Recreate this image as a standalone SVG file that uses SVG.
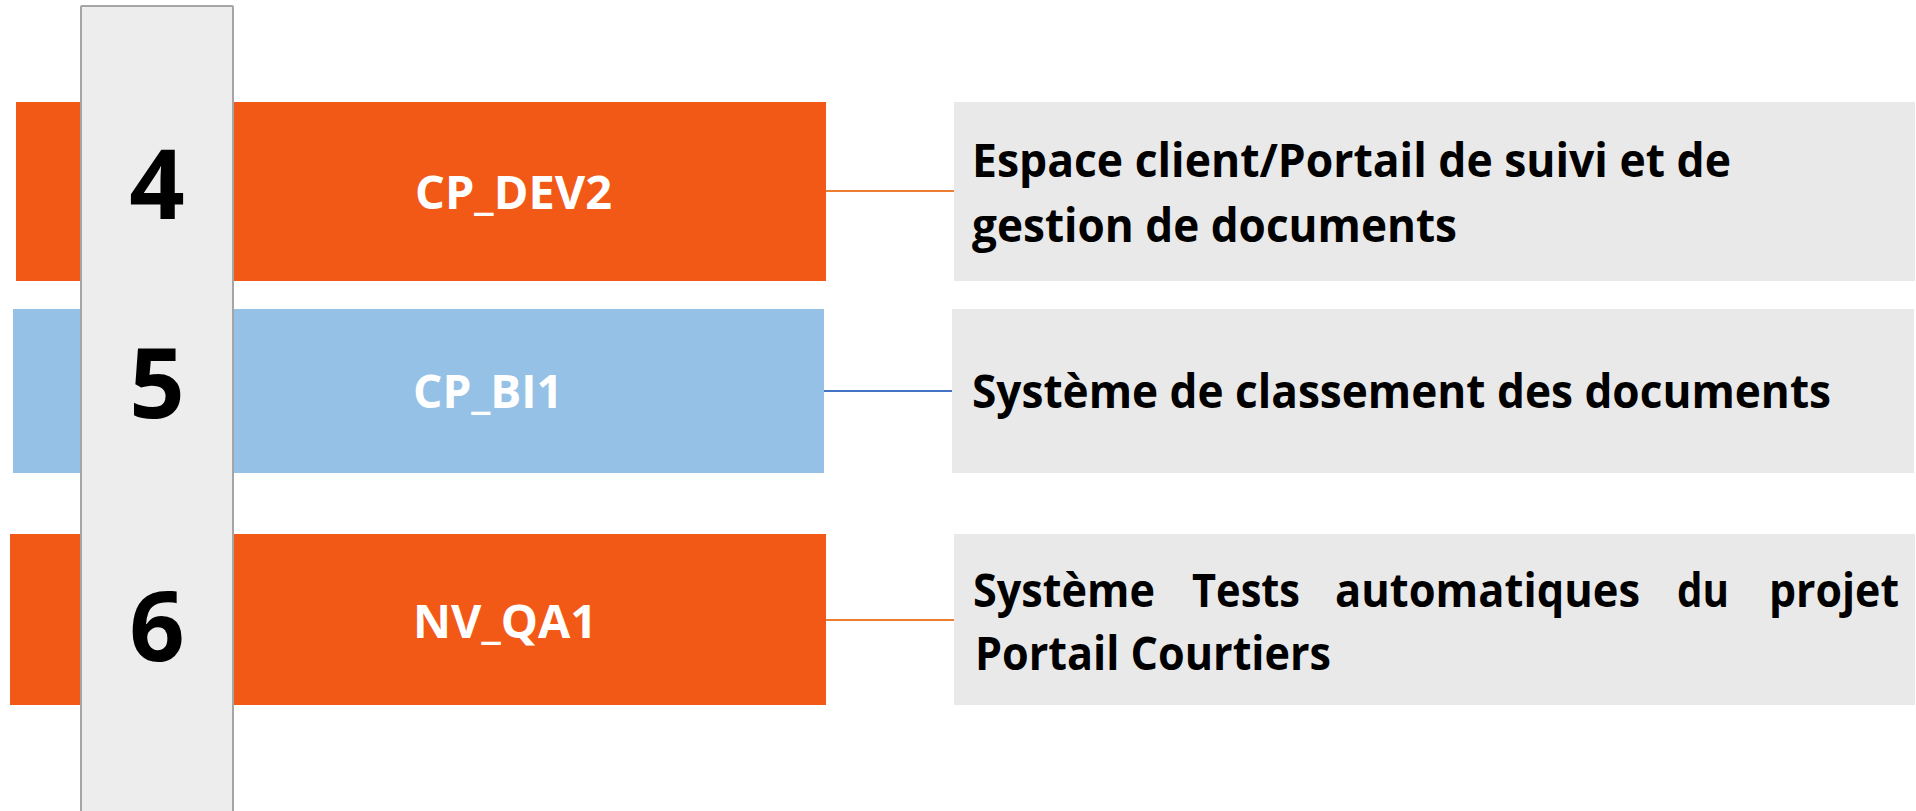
<svg xmlns="http://www.w3.org/2000/svg" width="1916" height="811" viewBox="0 0 1916 811">
<style>
.bar-o{fill:#F35916}
.bar-b{fill:#95C1E6}
.box{fill:#E9E9E9}
.col{fill:#EDEDED;stroke:#A5A5A5;stroke-width:2}
.t{font-family:"Open Sans","Liberation Sans",sans-serif;font-weight:700;font-size:46px}
.lbl{font-family:"Open Sans","Liberation Sans",sans-serif;font-weight:700;font-size:46px;fill:#FFFFFF}
.num{font-family:"Open Sans","Liberation Sans",sans-serif;font-weight:700;font-size:97px;fill:#000000;text-anchor:middle}
.c-o{stroke:#ED7D31;stroke-width:2;fill:none}
.c-b{stroke:#4472C4;stroke-width:2;fill:none}
</style>
<rect width="1916" height="811" fill="#FFFFFF"/>
<g id="bars">
<g id="bar4"><rect class="bar-o" x="16" y="102" width="810" height="179"/></g>
<g id="bar5"><rect class="bar-b" x="13" y="309" width="811" height="164"/></g>
<g id="bar6"><rect class="bar-o" x="10" y="534" width="816" height="171"/></g>
</g>
<g id="connectors">
<line class="c-o" x1="826" y1="191" x2="954" y2="191"/>
<line class="c-b" x1="824" y1="391" x2="952" y2="391"/>
<line class="c-o" x1="826" y1="620" x2="954" y2="620"/>
</g>
<g id="column">
<rect class="col" x="81" y="6" width="152" height="830" rx="1"/>
<text class="num" x="157" y="219">4</text>
<text class="num" x="157" y="418">5</text>
<text class="num" x="157" y="661">6</text>
</g>
<g id="label4"><text class="lbl" x="415" y="209" textLength="197" lengthAdjust="spacingAndGlyphs">CP_DEV2</text></g>
<g id="label5"><text class="lbl" x="413" y="408" textLength="150" lengthAdjust="spacingAndGlyphs">CP_BI1</text></g>
<g id="label6"><text class="lbl" x="413" y="638" textLength="184" lengthAdjust="spacingAndGlyphs">NV_QA1</text></g>
<g id="desc4">
<rect class="box" x="954" y="102" width="961" height="179"/>
<text class="t" x="972" y="177" textLength="759" lengthAdjust="spacingAndGlyphs">Espace client/Portail de suivi et de</text>
<text class="t" x="972" y="242" textLength="485" lengthAdjust="spacingAndGlyphs">gestion de documents</text>
</g>
<g id="desc5">
<rect class="box" x="952" y="309" width="962" height="164"/>
<text class="t" x="972" y="408" textLength="859" lengthAdjust="spacingAndGlyphs">Système de classement des documents</text>
</g>
<g id="desc6">
<rect class="box" x="954" y="534" width="961" height="171"/>
<text class="t" y="607"><tspan x="973" textLength="182" lengthAdjust="spacingAndGlyphs">Système</tspan> <tspan x="1192" textLength="108" lengthAdjust="spacingAndGlyphs">Tests</tspan> <tspan x="1335" textLength="305" lengthAdjust="spacingAndGlyphs">automatiques</tspan> <tspan x="1677" textLength="52" lengthAdjust="spacingAndGlyphs">du</tspan> <tspan x="1769" textLength="130" lengthAdjust="spacingAndGlyphs">projet</tspan></text>
<text class="t" x="975" y="670" textLength="356" lengthAdjust="spacingAndGlyphs">Portail Courtiers</text>
</g>
</svg>
